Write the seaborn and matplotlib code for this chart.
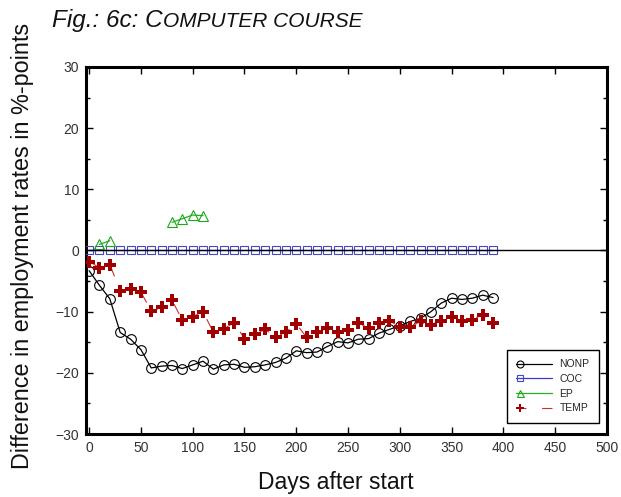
import numpy as np
import pandas as pd
import matplotlib
matplotlib.use("Agg")
import matplotlib.pyplot as plt
from matplotlib.lines import Line2D
from matplotlib.legend_handler import HandlerLine2DCompound
from matplotlib.ticker import MultipleLocator
import seaborn as sns

# ---------------- data ----------------
days = list(range(0, 400, 10))
nonp = [-3.3, -5.7, -7.9, -13.4, -14.5, -16.2, -19.2, -18.9, -18.8, -19.3,
        -18.7, -18.1, -19.4, -18.7, -18.6, -19.1, -19.0, -18.7, -18.3, -17.6,
        -16.4, -16.7, -16.6, -15.7, -14.9, -15.1, -14.5, -14.4, -13.5, -12.9,
        -12.3, -11.6, -11.1, -10.0, -8.6, -7.8, -8.0, -7.8, -7.3, -7.7]
coc = [0.0] * 40
ep_days = [10, 20, 80, 90, 100, 110]
ep = [1.0, 1.6, 4.6, 5.2, 5.8, 5.7]
ep_segment = [0, 0, 1, 1, 1, 1]
temp = [-1.8, -2.8, -2.3, -6.6, -6.3, -6.8, -9.9, -9.3, -8.1, -11.4,
        -10.8, -10.0, -13.4, -12.8, -11.8, -14.4, -13.7, -12.9, -14.2, -13.3,
        -12.0, -14.2, -13.4, -12.7, -13.4, -13.0, -11.9, -12.7, -11.9, -11.5,
        -12.5, -12.5, -11.6, -12.1, -11.5, -10.8, -11.5, -11.3, -10.5, -11.8]
series_labels = ["NONP", "COC", "EP", "TEMP"]
x_ticks = list(range(0, 501, 50))
y_ticks = list(range(-30, 31, 10))

sns.set_style("ticks")
plt.rcParams["font.family"] = ["Liberation Sans", "DejaVu Sans"]
plt.rcParams["axes.unicode_minus"] = True

fig = plt.figure(figsize=(6.21, 4.97), dpi=100)
ax = fig.add_axes([86 / 621, 1 - 434 / 497, (607 - 86) / 621, (434 - 67) / 497])

df_main = pd.DataFrame({"day": days, "NONP": nonp, "COC": coc, "TEMP": temp})
df_ep = pd.DataFrame({"day": ep_days, "EP": ep, "seg": ep_segment})

sns.lineplot(data=df_main, x="day", y="NONP", ax=ax, color="black", lw=0.9,
             marker="o", markersize=7, markerfacecolor="none",
             markeredgecolor="black", markeredgewidth=0.8, label="NONP", zorder=3)
sns.lineplot(data=df_main, x="day", y="COC", ax=ax, color="#3a3ad0", lw=0.9,
             marker="s", markersize=6, markerfacecolor="none",
             markeredgecolor="#4646c8", markeredgewidth=0.8, label="COC", zorder=3)
for s in sorted(set(ep_segment)):
    sub = df_ep[df_ep["seg"] == s]
    sns.lineplot(data=sub, x="day", y="EP", ax=ax, color="#22b022", lw=0.9,
                 marker="^", markersize=7, markerfacecolor="none",
                 markeredgecolor="#1aa81a", markeredgewidth=0.8,
                 label="EP" if s == 0 else None, zorder=3)
sns.lineplot(data=df_main, x="day", y="TEMP", ax=ax, color="#cc3030", lw=0.8,
             linestyle=(0, (10, 12)),
             marker="P", markersize=8.5, markerfacecolor="#a00000",
             markeredgecolor="#a00000", markeredgewidth=0.0, label="TEMP", zorder=4)
ax.axhline(0, color="black", lw=1.0, zorder=3.5)

ax.set_xlim(-3, 500)
ax.set_ylim(-30, 30)
ax.set_xticks(x_ticks)
ax.set_yticks(y_ticks)
ax.yaxis.set_minor_locator(MultipleLocator(5))
ax.tick_params(which="both", direction="in", top=True, right=True, width=1,
               colors="black", labelcolor="#333333", labelsize=10, pad=5)
ax.tick_params(which="major", length=5)
ax.tick_params(which="minor", length=3)
for sp in ax.spines.values():
    sp.set_linewidth(2.2)
    sp.set_color("black")

ax.set_xlabel("Days after start", fontsize=16.5, color="#111111")
ax.xaxis.set_label_coords((336 - 86) / 521, -(483 - 434) / 367)
ax.xaxis.label.set_va("center")
ax.set_ylabel("Difference in employment rates in %-points", fontsize=16.8, color="#111111")
ax.yaxis.set_label_coords(-(86 - 23) / 521, (434 - 246) / 367)
ax.yaxis.label.set_va("center")

# legend with marker at the left end of each handle
class LeftMarkerHandler(HandlerLine2DCompound):
    def get_xdata(self, legend, xdescent, ydescent, width, height, fontsize):
        xdata = np.array([-xdescent, -xdescent + width])
        return xdata, np.array([-xdescent + 0.1 * width])

handles, labels = ax.get_legend_handles_labels()
order = [labels.index(l) for l in series_labels]
handles = [handles[i] for i in order]
labels = [labels[i] for i in order]
leg = ax.legend(handles, labels, loc="upper left", bbox_to_anchor=(0.808, 0.229),
                fontsize=7.5, frameon=True, fancybox=False, edgecolor="black",
                framealpha=1, handlelength=3.4, handletextpad=0.75,
                labelspacing=0.45, borderpad=0.9, borderaxespad=0,
                markerscale=0.72,
                handler_map={Line2D: LeftMarkerHandler()})
leg.get_frame().set_linewidth(1.0)
leg.legend_handles[3].set_linestyle((0, (9, 14, 11, 20)))

# title with small caps
fig.canvas.draw()
renderer = fig.canvas.get_renderer()
parts = [("Fig.: 6c: C", 17.5), ("OMPUTER COURSE", 15)]
x = 52
for txt, size in parts:
    t = fig.text(x / 621, 1 - 27 / 497, txt, fontsize=size, style="italic",
                 family=["Liberation Sans", "DejaVu Sans"], color="#111111",
                 ha="left", va="baseline")
    bb = t.get_window_extent(renderer=renderer)
    x += bb.width

fig.savefig("out.png", dpi=100)
